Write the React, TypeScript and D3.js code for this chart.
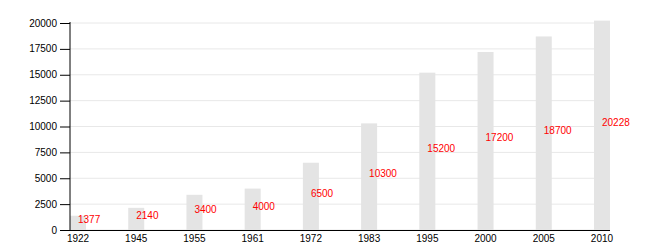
import React from "react";
import * as d3 from "d3";

const years = ["1922", "1945", "1955", "1961", "1972", "1983", "1995", "2000", "2005", "2010"];
const population = [1377, 2140, 3400, 4000, 6500, 10300, 15200, 17200, 18700, 20228];
const yTicks = [0, 2500, 5000, 7500, 10000, 12500, 15000, 17500, 20000];

const W = 650;
const H = 250;
const left = 70;
const right = 610;
const top = 23;
const bottom = 230;

export default function App() {
  const x = d3.scaleBand<string>().domain(years).range([left, right]).paddingInner(0.725).paddingOuter(0);
  const y = d3.scaleLinear().domain([0, 20000]).range([bottom, top]);
  const font = "Liberation Sans, Arial, sans-serif";
  return (
    <svg width={W} height={H} style={{ position: "absolute", left: 0, top: 0, background: "#fff" }}>
      <defs>
        <filter id="soft" x="-20%" y="-5%" width="140%" height="110%">
          <feGaussianBlur stdDeviation="0.6" />
        </filter>
      </defs>
      {yTicks.map((t) => (
        <line key={"g" + t} x1={left} x2={right} y1={y(t)} y2={y(t)} stroke="#e8e8e8" strokeWidth={1} />
      ))}
      {population.map((v, i) => (
        <rect
          key={"b" + i}
          x={x(years[i])!}
          y={y(v)}
          width={x.bandwidth()}
          height={bottom - y(v)}
          fill="#e4e4e4"
          filter="url(#soft)"
        />
      ))}
      {population.map((v, i) => (
        <text
          key={"l" + i}
          x={x(years[i])! + x.bandwidth() / 2}
          y={y(v / 2) + 0.5}
          fill="#ff0000"
          fontSize={10}
          fontFamily={font}
        >
          {v}
        </text>
      ))}
      <line x1={left} x2={left} y1={top - 1} y2={bottom} stroke="#000" strokeWidth={1} />
      <line x1={left} x2={right} y1={bottom + 0.5} y2={bottom + 0.5} stroke="#000" strokeWidth={1} />
      {yTicks.map((t) => (
        <g key={"t" + t}>
          <line x1={left - 10} x2={left} y1={y(t) + 0.5} y2={y(t) + 0.5} stroke="#000" strokeWidth={1} />
          <text x={left - 13} y={y(t)} dy="0.35em" textAnchor="end" fontSize={10} fontFamily={font} fill="#000">
            {t}
          </text>
        </g>
      ))}
      {years.map((yr) => (
        <text
          key={"x" + yr}
          x={x(yr)! + x.bandwidth() / 2}
          y={bottom + 12}
          textAnchor="middle"
          fontSize={10}
          fontFamily={font}
          fill="#000"
        >
          {yr}
        </text>
      ))}
    </svg>
  );
}
